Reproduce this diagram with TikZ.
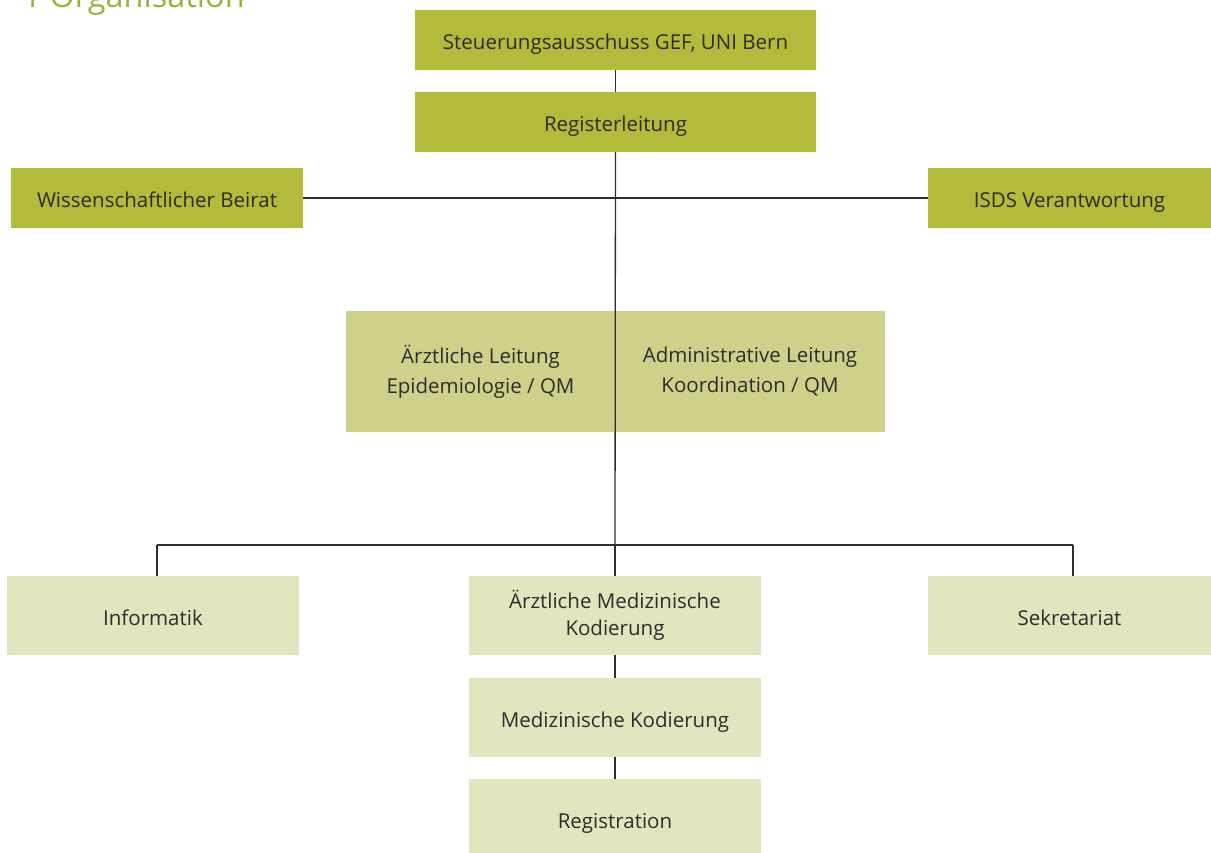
\documentclass[tikz,border=0pt]{standalone}
\usepackage{fontspec}
\setmainfont{Open Sans}
\definecolor{gruenA}{RGB}{178,187,58}
\definecolor{gruenB}{RGB}{205,209,138}
\definecolor{gruenC}{RGB}{227,229,191}
\definecolor{titelgruen}{RGB}{163,173,58}
\definecolor{textgrau}{RGB}{45,45,45}

\begin{document}
\begin{tikzpicture}[x=1pt,y=-1pt,
                    box/.style={fill=#1,inner sep=0pt,text=textgrau,align=center,
                                font=\fontsize{20.5}{30}\selectfont},
                    einzeilig/.style={text height=19pt,text depth=0pt},
                    linie/.style={draw=textgrau,line width=1.3pt}]
                          \useasboundingbox (0,0) rectangle (1211,853);
                          \node[anchor=base west,text=titelgruen,font=\fontsize{32.5}{32.5}\selectfont] (T) at (19,7.5) {1 Organisation};

                          \node[box=gruenA,einzeilig,minimum width=401pt,minimum height=60pt] (SA) at (615.5,40) {Steuerungsausschuss GEF, UNI Bern};
                          \node[box=gruenA,einzeilig,minimum width=401pt,minimum height=60pt] (RL) at (615.5,122) {Registerleitung};
                          \node[box=gruenA,einzeilig,minimum width=292pt,minimum height=60pt] (WB) at (157,198) {Wissenschaftlicher Beirat};
                          \node[box=gruenA,einzeilig,minimum width=283pt,minimum height=60pt] (ISDS) at (1069.5,198) {ISDS Verantwortung};

                          \node[box=gruenB,minimum width=269pt,minimum height=121pt] (AEL) at (480.5,371.5) {Ärztliche Leitung\\Epidemiologie / QM};
                          \node[box=gruenB,minimum width=270pt,minimum height=121pt] (ADL) at (750,371.5) {Administrative Leitung\\Koordination / QM};

                          \node[box=gruenC,einzeilig,minimum width=292pt,minimum height=79pt] (INF) at (153,615.5) {Informatik};
                          \node[box=gruenC,minimum width=292pt,minimum height=79pt,font=\fontsize{20.5}{27}\selectfont] (AMK) at (615,615.5) {Ärztliche Medizinische\\Kodierung};
                          \node[box=gruenC,einzeilig,minimum width=283pt,minimum height=79pt] (SEK) at (1069.5,615.5) {Sekretariat};
                          \node[box=gruenC,einzeilig,minimum width=292pt,minimum height=79pt] (MK) at (615,717.5) {Medizinische Kodierung};
                          \node[box=gruenC,einzeilig,minimum width=292pt,minimum height=79pt] (REG) at (615,818.5) {Registration};

                          \coordinate (V) at (615,545);
                          \coordinate (VL) at (157,545);
                          \coordinate (VR) at (1073,545);

                          \draw[linie] (SA) -- (RL);
                          \draw[linie] (WB) -- (ISDS);
                          \draw[linie] (RL.south) -- (V);
                          \draw[linie] (VL) -- (VR);
                          \draw[linie] (VL) -- (VL |- INF.north);
                          \draw[linie] (VR) -- (VR |- SEK.north);
                          \draw[linie] (V) -- (AMK);
                          \draw[linie] (AMK) -- (MK);
                          \draw[linie] (MK) -- (REG);
                          \end{tikzpicture}
\end{document}
